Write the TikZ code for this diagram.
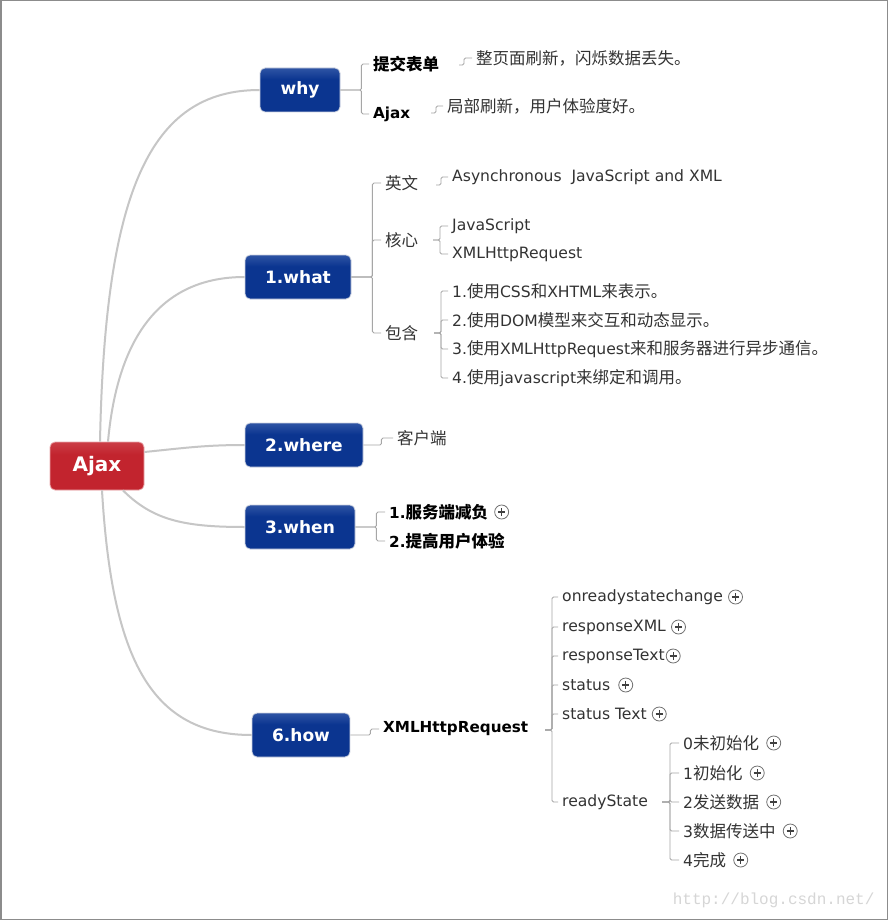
\documentclass[tikz,border=0pt]{standalone}
\usepackage{fontspec}
\setmainfont{DejaVu Sans}
\setmonofont{Liberation Mono}
\newfontfamily\cjkfont{Noto Sans CJK SC}
\usetikzlibrary{positioning}

\definecolor{navy}{HTML}{0B3590}
\definecolor{navylight}{HTML}{7390CB}
\definecolor{rootred}{HTML}{C2242E}
\definecolor{rootlight}{HTML}{DC6E74}
\definecolor{boxedge}{HTML}{CDD3E0}
\definecolor{trunkgray}{HTML}{C6C6C6}
\definecolor{twiggray}{HTML}{A6A6A6}
\definecolor{leaftext}{HTML}{333333}
\definecolor{expgray}{HTML}{707070}
\definecolor{urlgray}{HTML}{D6D6D6}
\definecolor{framegray}{HTML}{8C8C8C}

\pgfdeclareverticalshading{topicshade}{100bp}{color(0bp)=(navy); color(50bp)=(navy); color(62bp)=(navy); color(100bp)=(navylight)}
\pgfdeclareverticalshading{rootshade}{100bp}{color(0bp)=(rootred); color(50bp)=(rootred); color(62bp)=(rootred); color(100bp)=(rootlight)}

\newcommand\zh[1]{{\cjkfont\fontsize{16.5}{19}\selectfont #1}}

\begin{document}
\begin{tikzpicture}[x=1pt,y=-1pt,
  topic/.style={shade, shading=topicshade, draw=boxedge, line width=0.8pt, rounded corners=5pt,
    minimum height=44pt, inner sep=0pt, text=white, font=\bfseries\fontsize{17}{20}\selectfont},
  rootbox/.style={topic, shading=rootshade, draw=rootlight!60!white, font=\bfseries\fontsize{20}{24}\selectfont},
  leaf/.style={anchor=west, inner xsep=4pt, inner ysep=1pt, text=leaftext, font=\fontsize{15.6}{18}\selectfont},
  keyleaf/.style={leaf, text=black, font=\bfseries\fontsize{15.2}{18}\selectfont},
  trunk/.style={draw=trunkgray, line width=2pt},
  twig/.style={draw=twiggray, line width=0.9pt, rounded corners=1.5pt},
  expander/.style={circle, draw=expgray, line width=0.8pt, minimum size=14pt, inner sep=0pt,
    path picture={\draw[line width=1.1pt, black!75]
      ([xshift=-3.6pt]path picture bounding box.center) -- ([xshift=3.6pt]path picture bounding box.center)
      ([yshift=-3.6pt]path picture bounding box.center) -- ([yshift=3.6pt]path picture bounding box.center);}}]
  \useasboundingbox (0,0) rectangle (888,920);
  \fill[white] (0,0) rectangle (888,920);

  % main topics
  \node[rootbox, minimum width=94pt, minimum height=48pt] (ajax) at (97,466) {Ajax};
  \node[topic, minimum width=80pt] (why) at (300,90) {why};
  \node[topic, minimum width=106pt] (what) at (298,277) {1.what};
  \node[topic, minimum width=118pt] (where) at (304,445) {2.where};
  \node[topic, minimum width=110pt] (when) at (300,527) {3.when};
  \node[topic, minimum width=98pt] (how) at (301,735) {6.how};

  \draw[trunk] ([xshift=3pt]ajax.north) .. controls +(5,-250) and +(-110,0) .. (why.west);
  \draw[trunk] ([xshift=11pt]ajax.north) .. controls +(10,-110) and +(-80,0) .. (what.west);
  \draw[trunk] ([yshift=14pt]ajax.east) .. controls +(40,-4) and +(-40,0) .. (where.west);
  \draw[trunk] ([xshift=26pt]ajax.south) .. controls +(30,30) and +(-60,0) .. (when.west);
  \draw[trunk] ([xshift=5pt]ajax.south) .. controls +(10,170) and +(-100,0) .. (how.west);

  % why
  \node[keyleaf] (submit) at (369,64) {\zh{提交表单}};
  \node[keyleaf] (ajaxc) at (369,114) {Ajax};
  \node[leaf] (reload) at (472,58) {\zh{整页面刷新，闪烁数据丢失。}};
  \node[leaf] (partial) at (443,106) {\zh{局部刷新，用户体验度好。}};
  \coordinate (submitJ) at (459,65);
  \coordinate (ajaxcJ) at (431,113);
  \draw[twig] (why.east) -- ++(21,0) |- (submit.west);
  \draw[twig] (why.east) -- ++(21,0) |- (ajaxc.west);
  \draw[twig] (submitJ) -- ++(5,0) |- (reload.west);
  \draw[twig] (ajaxcJ) -- ++(5,0) |- (partial.west);

  % what
  \node[leaf] (eng) at (381,183) {\zh{英文}};
  \node[leaf] (core) at (381,240) {\zh{核心}};
  \node[leaf] (incl) at (381,333) {\zh{包含}};
  \node[leaf] (full) at (448,177) {Asynchronous\ \ JavaScript and XML};
  \node[leaf] (js) at (448,226) {JavaScript};
  \node[leaf] (xhrc) at (448,254) {XMLHttpRequest};
  \node[leaf] (inc1) at (448,291) {1.\zh{使用}CSS\zh{和}XHTML\zh{来表示。}};
  \node[leaf] (inc2) at (448,320) {2.\zh{使用}DOM\zh{模型来交互和动态显示。}};
  \node[leaf] (inc3) at (448,349) {3.\zh{使用}XMLHttpRequest\zh{来和服务器进行异步通信。}};
  \node[leaf] (inc4) at (448,378) {4.\zh{使用}javascript\zh{来绑定和调用。}};
  \coordinate (engJ) at (436,185);
  \coordinate (coreJ) at (433,240);
  \coordinate (inclJ) at (434,333);
  \foreach \c in {eng,core,incl}
    \draw[twig] (what.east) -- ++(21,0) |- (\c.west);
  \draw[twig] (engJ) -- ++(5,0) |- (full.west);
  \foreach \c in {js,xhrc}
    \draw[twig] (coreJ) -- ++(7,0) |- (\c.west);
  \foreach \c in {inc1,inc2,inc3,inc4}
    \draw[twig] (inclJ) -- ++(7,0) |- (\c.west);

  % where
  \node[leaf] (client) at (393,438) {\zh{客户端}};
  \draw[twig] (where.east) -- ++(18,0) |- (client.west);

  % when
  \node[keyleaf] (relief) at (385,512) {1.\zh{服务端减负}};
  \node[keyleaf] (ux) at (385,541) {2.\zh{提高用户体验}};
  \node[expander, right=2pt of relief] (reliefx) {};
  \foreach \c in {relief,ux}
    \draw[twig] (when.east) -- ++(21,0) |- (\c.west);

  % how
  \node[keyleaf] (xhr) at (379,729) {XMLHttpRequest};
  \node[leaf] (ors) at (558,597) {onreadystatechange};
  \node[leaf] (rxml) at (558,627) {responseXML};
  \node[leaf] (rtext) at (558,656) {responseText};
  \node[leaf] (stat) at (558,685) {status};
  \node[leaf] (stxt) at (558,714) {status Text};
  \node[leaf] (rstate) at (558,802) {readyState};
  \node[leaf] (rs0) at (679,743) {0\zh{未初始化}};
  \node[leaf] (rs1) at (679,773) {1\zh{初始化}};
  \node[leaf] (rs2) at (679,802) {2\zh{发送数据}};
  \node[leaf] (rs3) at (679,831) {3\zh{数据传送中}};
  \node[leaf] (rs4) at (679,860) {4\zh{完成}};
  \foreach \n/\g in {ors/1pt,rxml/1pt,rtext/-3pt,stat/4pt,stxt/1pt,rs0/3pt,rs1/3pt,rs2/3pt,rs3/3pt,rs4/3pt}
    \node[expander, right=\g of \n] (\n x) {};
  \coordinate (xhrJ) at (545,730);
  \coordinate (rstateJ) at (662,802);
  \draw[twig] (how.east) -- ++(20,0) |- (xhr.west);
  \foreach \c in {ors,rxml,rtext,stat,stxt,rstate}
    \draw[twig] (xhrJ) -- ++(7,0) |- (\c.west);
  \foreach \c in {rs0,rs1,rs2,rs3,rs4}
    \draw[twig] (rstateJ) -- ++(8,0) |- (\c.west);

  \node[font=\ttfamily\fontsize{16}{18}\selectfont, text=urlgray, anchor=east] (url) at (878,900) {http://blog.csdn.net/};
  \draw[framegray, line width=1.5pt] (0.75,0.75) rectangle (887.25,919.25);
\end{tikzpicture}
\end{document}
